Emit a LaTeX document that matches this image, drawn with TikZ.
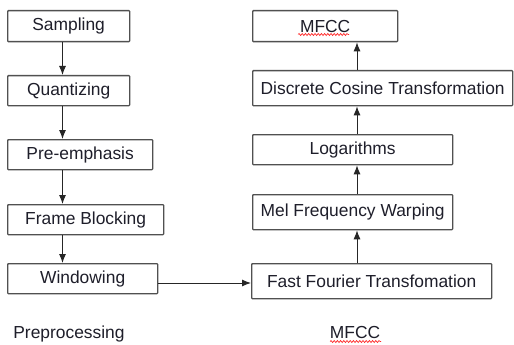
\documentclass[tikz,border=0pt]{standalone}
\usepackage{fontspec}
\setmainfont{Liberation Sans}
\usetikzlibrary{arrows.meta,decorations.pathmorphing}
\definecolor{txt}{HTML}{1E1E2A}
\definecolor{edge}{HTML}{505050}
\begin{document}
\begin{tikzpicture}[x=1pt,y=-1pt,
  box/.style={draw=edge,line width=1.3pt,rounded corners=0.8pt,inner sep=0pt,text=txt,
    font=\fontsize{17.4}{20}\selectfont,anchor=north west},
  lbl/.style={text=txt,font=\fontsize{17.4}{20}\selectfont,inner sep=0pt},
  arr/.style={draw=black!85,line width=1pt,-{Latex[length=9pt,width=7pt]}},
  wavy/.style={draw=red!85,line width=0.7pt,decorate,decoration={snake,amplitude=1pt,segment length=3.2pt}}]
\useasboundingbox (0,0) rectangle (514,345);
\fill[white] (0,0) rectangle (514,345);
% left column
\node[box,minimum width=122pt,minimum height=31pt] (samp) at (7,10) {Sampling};
\node[box,minimum width=122pt,minimum height=30pt] (quant) at (7,75) {Quantizing};
\node[box,minimum width=145pt,minimum height=30pt] (pre) at (7,139) {Pre-emphasis};
\node[box,minimum width=156pt,minimum height=30pt] (frame) at (7,204) {Frame Blocking};
\node[box,minimum width=150pt,minimum height=30pt] (wind) at (7,263) {Windowing};
% right column
\node[box,minimum width=145pt,minimum height=31pt] (mfcc) at (252,10) {MFCC};
\node[box,minimum width=260pt,minimum height=35pt] (dct) at (252,70) {Discrete Cosine Transformation};
\node[box,minimum width=200pt,minimum height=30pt] (log) at (252,134) {Logarithms};
\node[box,minimum width=200pt,minimum height=35pt] (mel) at (252,194) {Mel Frequency Warping};
\node[box,minimum width=240pt,minimum height=35pt] (fft) at (251,263) {Fast Fourier Transfomation};
% labels
\node[lbl] (prelbl) at (69,334) {Preprocessing};
\node[lbl] (mfcclbl) at (355,333) {MFCC};
% wavy underlines
\coordinate (w1a) at (298,34.5);
\coordinate (w1b) at (349,34.5);
\draw[wavy] (w1a) -- (w1b);
\coordinate (w2a) at (330,341.5);
\coordinate (w2b) at (381,341.5);
\draw[wavy] (w2a) -- (w2b);
% arrow guides
\coordinate (lx) at (62.5,0);
\coordinate (rx) at (357,0);
\coordinate (hy) at (0,283);
\draw[arr] (samp.south -| lx) -- (quant.north -| lx);
\draw[arr] (quant.south -| lx) -- (pre.north -| lx);
\draw[arr] (pre.south -| lx) -- (frame.north -| lx);
\draw[arr] (frame.south -| lx) -- (wind.north -| lx);
\draw[arr] (wind.east |- hy) -- (fft.west |- hy);
\draw[arr] (fft.north -| rx) -- (mel.south -| rx);
\draw[arr] (mel.north -| rx) -- (log.south -| rx);
\draw[arr] (log.north -| rx) -- (dct.south -| rx);
\draw[arr] (dct.north -| rx) -- (mfcc.south -| rx);
\end{tikzpicture}
\end{document}
